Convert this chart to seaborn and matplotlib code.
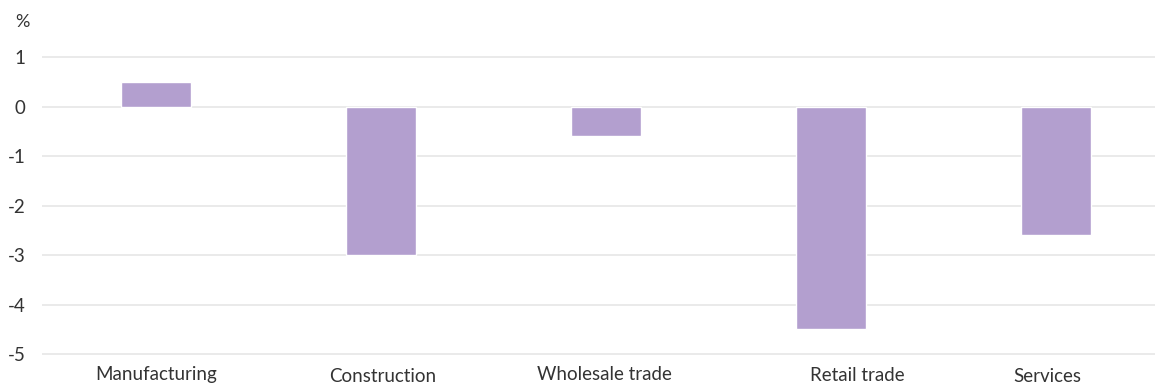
import matplotlib
matplotlib.use("Agg")
import matplotlib.pyplot as plt
import matplotlib.transforms as mtrans
import seaborn as sns
import pandas as pd

categories = ["Manufacturing", "Construction", "Wholesale trade", "Retail trade", "Services"]
values = [0.5, -3.0, -0.6, -4.5, -2.6]
yticks = [1, 0, -1, -2, -3, -4, -5]

df = pd.DataFrame({"category": categories, "value": values})

sns.set_theme(style="white")
plt.rcParams["font.family"] = ["Lato", "DejaVu Sans"]

fig = plt.figure(figsize=(11.55, 3.88), dpi=100)
ax = fig.add_axes([42 / 1155, 0.0812, 1 - 42 / 1155, 0.778])

sns.barplot(data=df, x="category", y="value", color="#b39fcf", saturation=1,
            width=0.31, ax=ax, zorder=3)

ax.set_xlim(-0.507, 4.44)
ax.set_ylim(-5.05, 1.05)
ax.set_yticks(yticks)
ax.set_yticklabels([str(t) for t in yticks], fontsize=13.5, color="#333333")
ax.yaxis.grid(True, color="#e6e6e6", linewidth=1.2, zorder=0)
ax.xaxis.grid(False)
for s in ax.spines.values():
    s.set_visible(False)
ax.tick_params(axis="y", length=0, pad=12)
ax.tick_params(axis="x", length=0, pad=7, labelsize=13.5, labelcolor="#333333")
ax.set_xlabel("")
ax.set_ylabel("")

# small per-label offsets as in the reference (pixels)
offs = [(0, 0), (2, -2), (-2, 0), (26, -1), (-9, -2)]
for lab, (dx, dy) in zip(ax.get_xticklabels(), offs):
    lab.set_transform(lab.get_transform() + mtrans.ScaledTranslation(dx / 100, dy / 100, fig.dpi_scale_trans))

fig.text(15 / 1155, 1 - 22 / 388, "%", fontsize=13, color="#333333", va="center", ha="left")

fig.savefig("out.png", dpi=100, facecolor="white")
